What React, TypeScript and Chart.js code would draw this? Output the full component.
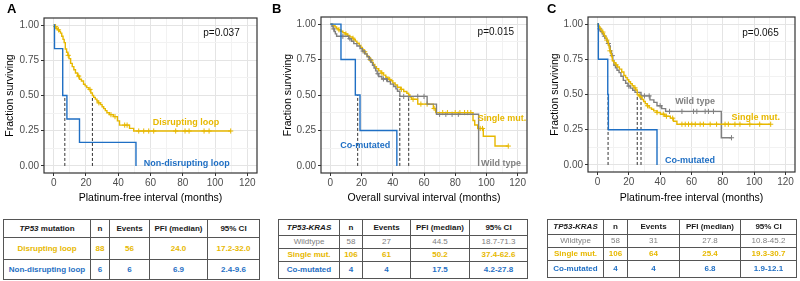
import React, { useEffect, useRef } from "react";
import { Chart, registerables } from "chart.js";

Chart.register(...registerables);

const FONT = "'Liberation Sans', Arial, Helvetica, sans-serif";
const GOLD = "#E7B800";
const BLUE = "#1F6FC4";
const GREY = "#808080";
const MEDIAN_INK = "#333333";
const CANVAS_H = 210;

// Axis tick labels and grid positions
const MONTH_TICKS = [0, 20, 40, 60, 80, 100, 120];
const MONTH_GRID = [0, 10, 20, 30, 40, 50, 60, 70, 80, 90, 100, 110, 120];
const SURV_TICKS = [0, 0.25, 0.5, 0.75, 1];
const SURV_GRID = [0, 0.125, 0.25, 0.375, 0.5, 0.625, 0.75, 0.875, 1];

// ---------- A: TP53 loop status, platinum-free interval ----------
const aLoopTimes = [0, 0.5, 1.5, 2.5, 3.5, 4.2, 5, 5.8, 6.5, 7.2, 8, 8.8, 9.5, 10.5, 11.5, 12.5, 13.5, 14.8, 16, 17.2, 18.5, 19.5, 20.5, 21.8, 23, 24, 24.8, 25.8, 26.8, 27.5, 29, 30, 31, 32, 33, 34.5, 37, 39.5, 40.8, 47, 49.6, 110];
const aLoopSurv = [1, 0.989, 0.977, 0.966, 0.955, 0.943, 0.92, 0.898, 0.875, 0.83, 0.807, 0.785, 0.762, 0.728, 0.705, 0.683, 0.66, 0.638, 0.615, 0.603, 0.58, 0.568, 0.556, 0.543, 0.518, 0.5, 0.487, 0.474, 0.461, 0.448, 0.435, 0.42, 0.407, 0.393, 0.378, 0.364, 0.35, 0.32, 0.29, 0.267, 0.248, 0.248];
const aLoopCensor = [1.2, 3, 9, 15.5, 22.5, 28, 35.5, 38, 44, 45.5, 52.7, 55.8, 58.9, 62, 75.6, 81.4, 83.9, 93.2, 96.3, 109.7];
const aNonLoopTimes = [0, 0.5, 5.6, 8.2, 16, 51];
const aNonLoopSurv = [1, 0.833, 0.5, 0.333, 0.167, 0];
const aNonLoopCensor: number[] = [];
const aRows = [
  ["Disrupting loop", "88", "56", "24.0", "17.2-32.0"],
  ["Non-disrupting loop", "6", "6", "6.9", "2.4-9.6"],
];

// ---------- B: TP53-KRAS status, overall survival ----------
const bWildTimes = [0, 1, 1.8, 2.5, 3.2, 4, 11.8, 13.5, 15, 17, 19, 20.5, 22, 23.5, 25, 26, 27, 28, 29, 30, 31, 33, 36.5, 38.5, 40.5, 42, 43, 44.5, 62, 68, 95];
const bWildSurv = [1, 0.983, 0.966, 0.948, 0.931, 0.914, 0.897, 0.879, 0.862, 0.845, 0.827, 0.81, 0.79, 0.77, 0.75, 0.73, 0.71, 0.69, 0.67, 0.65, 0.63, 0.613, 0.595, 0.577, 0.56, 0.543, 0.526, 0.49, 0.436, 0.364, 0];
const bWildCensor = [2.2, 8, 12.5, 21, 25.5, 30.5, 34, 36, 47, 50, 56, 60, 70, 74, 78, 82];
const bSingleTimes = [0, 1.5, 3, 4, 5, 6.5, 8, 9.5, 11, 12.5, 14, 15, 16, 17, 18.5, 19.5, 20.5, 21.5, 22.5, 23.5, 24.5, 25.5, 26.5, 27.5, 28.5, 29.5, 31, 32.5, 34, 35.5, 37, 38.5, 40, 41.5, 43, 45, 47, 49, 50.2, 51, 52, 56, 66, 67.5, 91.4, 92.5, 94.4, 98, 105.5, 114];
const bSingleSurv = [1, 0.99, 0.98, 0.97, 0.96, 0.95, 0.94, 0.93, 0.92, 0.91, 0.9, 0.89, 0.88, 0.865, 0.85, 0.835, 0.82, 0.805, 0.79, 0.775, 0.76, 0.745, 0.73, 0.715, 0.7, 0.685, 0.67, 0.655, 0.64, 0.625, 0.61, 0.6, 0.585, 0.57, 0.555, 0.54, 0.525, 0.512, 0.5, 0.485, 0.47, 0.436, 0.405, 0.376, 0.32, 0.288, 0.264, 0.209, 0.14, 0.14];
const bSingleCensor = [5.5, 10, 14.5, 22, 26, 33, 38, 45.5, 53, 58, 62, 66.5, 72, 75, 80, 83, 86, 88, 90, 96, 97.5, 114];
const bCoTimes = [0, 6.8, 16, 19, 42.6];
const bCoSurv = [1, 0.75, 0.5, 0.25, 0];
const bCoCensor: number[] = [];
const bRows = [
  ["Wildtype", "58", "27", "44.5", "18.7-71.3"],
  ["Single mut.", "106", "61", "50.2", "37.4-62.6"],
  ["Co-mutated", "4", "4", "17.5", "4.2-27.8"],
];

// ---------- C: TP53-KRAS status, platinum-free interval ----------
const cWildTimes = [0, 0.5, 1.2, 2, 3, 4, 5, 6, 6.8, 7.5, 8.2, 9, 9.8, 10.5, 11.5, 12.5, 13.8, 15, 16.5, 18, 19.5, 21, 22.5, 24, 27.8, 33.5, 36, 38, 41, 43.5, 79, 85.5];
const cWildSurv = [1, 0.983, 0.966, 0.948, 0.931, 0.914, 0.897, 0.879, 0.862, 0.845, 0.81, 0.776, 0.741, 0.707, 0.69, 0.672, 0.655, 0.63, 0.6, 0.58, 0.56, 0.545, 0.53, 0.515, 0.49, 0.462, 0.444, 0.42, 0.4, 0.38, 0.193, 0.193];
const cWildCensor = [1.5, 4.5, 7, 9.5, 20, 30, 33, 40, 46, 53.9, 61.3, 63.4, 68.7, 70.8, 74, 85.5];
const cSingleTimes = [0, 0.5, 1, 1.5, 2.2, 3, 3.8, 4.5, 5.2, 6, 6.4, 7, 7.5, 8, 8.5, 9, 9.5, 10.5, 11.5, 12.7, 14, 15.5, 16.9, 18, 19, 20, 21.1, 22.2, 23.3, 24.4, 25.4, 26.5, 27.5, 28.5, 29.5, 30.5, 31.7, 33, 34.5, 35.9, 38, 40.2, 43, 46.5, 48.5, 50.7, 110.5];
const cSingleSurv = [1, 0.99, 0.981, 0.971, 0.957, 0.943, 0.929, 0.915, 0.9, 0.886, 0.873, 0.85, 0.83, 0.81, 0.79, 0.77, 0.74, 0.725, 0.71, 0.695, 0.68, 0.66, 0.635, 0.62, 0.605, 0.59, 0.576, 0.562, 0.547, 0.532, 0.5, 0.49, 0.48, 0.465, 0.45, 0.435, 0.42, 0.405, 0.395, 0.384, 0.372, 0.36, 0.346, 0.332, 0.31, 0.289, 0.289];
const cSingleCensor = [3.5, 6, 8, 12, 24, 27, 32, 38, 42, 44, 48, 53.9, 56, 58.1, 60.2, 62.4, 65.5, 67.6, 71.9, 76, 81.4, 83.5, 87.7, 90.9, 97.2, 103.5, 110.5];
const cCoTimes = [0, 0.6, 6.6, 7.0, 38];
const cCoSurv = [1, 0.75, 0.5, 0.25, 0];
const cCoCensor: number[] = [];
const cRows = [
  ["Wildtype", "58", "31", "27.8", "10.8-45.2"],
  ["Single mut.", "106", "64", "25.4", "19.3-30.7"],
  ["Co-mutated", "4", "4", "6.8", "1.9-12.1"],
];

const TABLE_HEAD = ["n", "Events", "PFI (median)", "95% CI"];

type Curve = { times: number[]; surv: number[]; censor: number[]; color: string };
type Note = { text: string; x: number; y: number; color: string; bold?: boolean; size: number };
type PanelSpec = {
  letter: string;
  left: number;
  width: number;
  padLeft: number;
  padTop: number;
  padRight: number;
  yAxisWidth: number;
  xAxisHeight: number;
  xTitle: string;
  curves: Curve[];
  medians: number[];
  notes: Note[];
};

// Kaplan-Meier value of a step curve at time t
function survAt(times: number[], surv: number[], t: number) {
  let s = surv[0];
  for (let i = 0; i < times.length; i++) if (times[i] <= t) s = surv[i];
  return s;
}

const medianOf = (rows: string[][]) => rows.map((r) => parseFloat(r[3]));

const PANELS: PanelSpec[] = [
  {
    letter: "A",
    left: 0,
    width: 265,
    padLeft: 0,
    padTop: 18,
    padRight: 8,
    yAxisWidth: 44,
    xAxisHeight: 37,
    xTitle: "Platinum-free interval (months)",
    curves: [
      { times: aNonLoopTimes, surv: aNonLoopSurv, censor: aNonLoopCensor, color: BLUE },
      { times: aLoopTimes, surv: aLoopSurv, censor: aLoopCensor, color: GOLD },
    ],
    medians: medianOf(aRows),
    notes: [
      { text: "p=0.037", x: 104, y: 0.94, color: "#111", size: 10 },
      { text: "Disrupting loop", x: 82, y: 0.31, color: GOLD, bold: true, size: 9 },
      { text: "Non-disrupting loop", x: 82.5, y: 0.017, color: BLUE, bold: true, size: 9 },
    ],
  },
  {
    letter: "B",
    left: 265,
    width: 270,
    padLeft: 13,
    padTop: 17,
    padRight: 8,
    yAxisWidth: 43,
    xAxisHeight: 37,
    xTitle: "Overall survival interval (months)",
    curves: [
      { times: bCoTimes, surv: bCoSurv, censor: bCoCensor, color: BLUE },
      { times: bWildTimes, surv: bWildSurv, censor: bWildCensor, color: GREY },
      { times: bSingleTimes, surv: bSingleSurv, censor: bSingleCensor, color: GOLD },
    ],
    medians: medianOf(bRows),
    notes: [
      { text: "p=0.015", x: 106, y: 0.94, color: "#111", size: 10 },
      { text: "Single mut.", x: 110, y: 0.336, color: GOLD, bold: true, size: 9 },
      { text: "Co-mutated", x: 22.4, y: 0.145, color: BLUE, bold: true, size: 9 },
      { text: "Wild type", x: 109.3, y: 0.014, color: GREY, bold: true, size: 9 },
    ],
  },
  {
    letter: "C",
    left: 530,
    width: 270,
    padLeft: 15,
    padTop: 17,
    padRight: 5,
    yAxisWidth: 43,
    xAxisHeight: 38,
    xTitle: "Platinum-free interval (months)",
    curves: [
      { times: cCoTimes, surv: cCoSurv, censor: cCoCensor, color: BLUE },
      { times: cSingleTimes, surv: cSingleSurv, censor: cSingleCensor, color: GOLD },
      { times: cWildTimes, surv: cWildSurv, censor: cWildCensor, color: GREY },
    ],
    medians: medianOf(cRows),
    notes: [
      { text: "p=0.065", x: 104, y: 0.935, color: "#111", size: 10 },
      { text: "Wild type", x: 62.3, y: 0.45, color: GREY, bold: true, size: 9 },
      { text: "Single mut.", x: 101, y: 0.334, color: GOLD, bold: true, size: 9 },
      { text: "Co-mutated", x: 59, y: 0.034, color: BLUE, bold: true, size: 9 },
    ],
  },
];

type TableSpec = {
  left: number;
  top: number;
  cols: number[];
  heights: number[];
  gene: string;
  headSuffix: string;
  rows: string[][];
  colors: string[];
  bold: boolean[];
};

const TABLES: TableSpec[] = [
  {
    left: 3, top: 219, cols: [87, 19, 40, 58, 52], heights: [18, 22, 20],
    gene: "TP53", headSuffix: " mutation", rows: aRows,
    colors: [GOLD, BLUE], bold: [true, true],
  },
  {
    left: 278, top: 219, cols: [61, 23, 48, 59, 58], heights: [16, 13, 13, 17],
    gene: "TP53-KRAS", headSuffix: "", rows: bRows,
    colors: [GREY, GOLD, BLUE], bold: [false, true, true],
  },
  {
    left: 547, top: 219, cols: [56, 24, 52, 61, 56], heights: [15, 13, 13, 17],
    gene: "TP53-KRAS", headSuffix: "", rows: cRows,
    colors: [GREY, GOLD, BLUE], bold: [false, true, true],
  },
];

// Panel frame and in-plot annotations
const kmDecor = {
  id: "kmDecor",
  afterDatasetsDraw(chart: any, _args: any, opts: any) {
    const { ctx, chartArea, scales } = chart;
    ctx.save();
    ctx.strokeStyle = "#333";
    ctx.lineWidth = 1.2;
    ctx.strokeRect(chartArea.left, chartArea.top, chartArea.right - chartArea.left, chartArea.bottom - chartArea.top);
    for (const n of (opts.notes || []) as Note[]) {
      ctx.font = `${n.bold ? "bold " : ""}${n.size}px ${FONT}`;
      ctx.fillStyle = n.color;
      ctx.textAlign = "center";
      ctx.textBaseline = "middle";
      ctx.fillText(n.text, scales.x.getPixelForValue(n.x), scales.y.getPixelForValue(n.y));
    }
    ctx.restore();
  },
};

function buildConfig(spec: PanelSpec): any {
  const datasets: any[] = [];
  spec.curves.forEach((c) => {
    datasets.push({
      data: c.times.map((t, i) => ({ x: t, y: c.surv[i] })),
      borderColor: c.color,
      borderWidth: 1.4,
      stepped: true,
      pointRadius: 0,
      fill: false,
    });
  });
  spec.curves.forEach((c) => {
    datasets.push({
      data: c.censor.map((t) => ({ x: t, y: survAt(c.times, c.surv, t) })),
      showLine: false,
      pointStyle: "cross",
      pointRadius: 2.6,
      pointBorderWidth: 1,
      borderColor: c.color,
      backgroundColor: c.color,
    });
  });
  spec.medians.forEach((m) => {
    datasets.push({
      data: [{ x: m, y: 0 }, { x: m, y: 0.5 }],
      borderColor: MEDIAN_INK,
      borderWidth: 1,
      borderDash: [3, 2],
      pointRadius: 0,
    });
  });

  const tickFont = { family: FONT, size: 10 };
  const titleFont = { family: FONT, size: 10.5 };

  return {
    type: "line",
    data: { datasets },
    plugins: [kmDecor],
    options: {
      animation: false,
      responsive: false,
      maintainAspectRatio: false,
      layout: { padding: { left: spec.padLeft, top: spec.padTop, right: spec.padRight, bottom: 0 } },
      plugins: {
        legend: { display: false },
        tooltip: { enabled: false },
        kmDecor: { notes: spec.notes },
      },
      scales: {
        x: {
          type: "linear",
          min: -6,
          max: 126,
          afterBuildTicks: (s: any) => {
            s.ticks = MONTH_GRID.map((v) => ({ value: v }));
          },
          afterFit: (s: any) => {
            s.height = spec.xAxisHeight;
          },
          ticks: {
            autoSkip: false,
            maxRotation: 0,
            padding: 1,
            color: "#4D4D4D",
            font: tickFont,
            callback: (v: any) => (MONTH_TICKS.includes(Number(v)) ? String(v) : ""),
          },
          grid: {
            color: (ctx: any) => (MONTH_TICKS.includes(ctx.tick?.value) ? "#E4E4E4" : "#F2F2F2"),
            tickColor: (ctx: any) => (MONTH_TICKS.includes(ctx.tick?.value) ? "#333" : "rgba(0,0,0,0)"),
            tickLength: 3,
          },
          border: { display: false },
          title: { display: true, text: spec.xTitle, color: "#000", font: titleFont, padding: { top: 0, bottom: 6 } },
        },
        y: {
          type: "linear",
          min: -0.05,
          max: 1.05,
          afterBuildTicks: (s: any) => {
            s.ticks = SURV_GRID.map((v) => ({ value: v }));
          },
          afterFit: (s: any) => {
            s.width = spec.yAxisWidth;
          },
          ticks: {
            autoSkip: false,
            padding: 2,
            color: "#4D4D4D",
            font: tickFont,
            callback: (v: any) => (SURV_TICKS.includes(Number(v)) ? Number(v).toFixed(2) : ""),
          },
          grid: {
            color: (ctx: any) => (SURV_TICKS.includes(ctx.tick?.value) ? "#E4E4E4" : "#F2F2F2"),
            tickColor: (ctx: any) => (SURV_TICKS.includes(ctx.tick?.value) ? "#333" : "rgba(0,0,0,0)"),
            tickLength: 3,
          },
          border: { display: false },
          title: { display: true, text: "Fraction surviving", color: "#000", font: titleFont, padding: { top: 4, bottom: 0 } },
        },
      },
    },
  };
}

function KMPanel({ spec }: { spec: PanelSpec }) {
  const ref = useRef<HTMLCanvasElement>(null);
  useEffect(() => {
    if (!ref.current) return;
    const chart = new Chart(ref.current, buildConfig(spec));
    return () => chart.destroy();
  }, [spec]);
  return (
    <>
      <canvas
        ref={ref}
        width={spec.width}
        height={CANVAS_H}
        style={{ position: "absolute", left: spec.left, top: 0, width: spec.width, height: CANVAS_H }}
      />
      <div
        style={{
          position: "absolute",
          left: spec.left + (spec.letter === "A" ? 7 : spec.letter === "B" ? 7 : 17),
          top: 2,
          fontFamily: FONT,
          fontWeight: "bold",
          fontSize: 13,
          lineHeight: "13px",
          color: "#000",
        }}
      >
        {spec.letter}
      </div>
    </>
  );
}

function StatTable({ spec }: { spec: TableSpec }) {
  const total = spec.cols.reduce((a, b) => a + b, 0);
  const cell = (extra: React.CSSProperties, h: number): React.CSSProperties => ({
    border: "1px solid #555",
    padding: 0,
    height: h - 1,
    textAlign: "center",
    verticalAlign: "middle",
    whiteSpace: "nowrap",
    overflow: "hidden",
    ...extra,
  });
  return (
    <table
      style={{
        position: "absolute",
        left: spec.left,
        top: spec.top,
        width: total,
        borderCollapse: "collapse",
        tableLayout: "fixed",
        fontFamily: FONT,
        fontSize: 8,
        lineHeight: 1,
      }}
    >
      <colgroup>
        {spec.cols.map((w, i) => (
          <col key={i} style={{ width: w }} />
        ))}
      </colgroup>
      <tbody>
        <tr>
          <td style={cell({ fontWeight: "bold", color: "#1A1A1A" }, spec.heights[0])}>
            <i>{spec.gene}</i>
            {spec.headSuffix}
          </td>
          {TABLE_HEAD.map((h) => (
            <td key={h} style={cell({ fontWeight: "bold", color: "#1A1A1A" }, spec.heights[0])}>
              {h}
            </td>
          ))}
        </tr>
        {spec.rows.map((r, ri) => (
          <tr key={ri}>
            {r.map((v, ci) => (
              <td
                key={ci}
                style={cell({ color: spec.colors[ri], fontWeight: spec.bold[ri] ? "bold" : "normal" }, spec.heights[ri + 1])}
              >
                {v}
              </td>
            ))}
          </tr>
        ))}
      </tbody>
    </table>
  );
}

export default function App() {
  return (
    <div
      style={{
        position: "absolute",
        left: 0,
        top: 0,
        width: 800,
        height: 281,
        overflow: "hidden",
        background: "#fff",
      }}
    >
      {PANELS.map((p) => (
        <KMPanel key={p.letter} spec={p} />
      ))}
      {TABLES.map((t, i) => (
        <StatTable key={i} spec={t} />
      ))}
    </div>
  );
}
